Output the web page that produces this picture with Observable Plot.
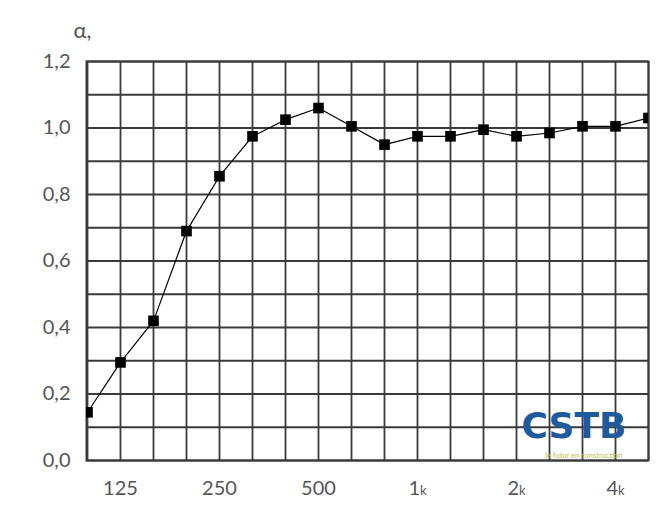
<!DOCTYPE html>
<html>
<head>
<meta charset="utf-8">
<script src="https://cdn.jsdelivr.net/npm/d3@7"></script>
<script src="https://cdn.jsdelivr.net/npm/@observablehq/plot@0.6"></script>
<style>
  html, body { margin: 0; padding: 0; background: #fff; }
</style>
</head>
<body>
<div id="chart"></div>
<script>
// Third-octave bands (Hz)
const bands = ["100","125","160","200","250","315","400","500","630","800","1k","1.25k","1.6k","2k","2.5k","3.15k","4k","5k"];
// Absorption coefficient alpha
const alpha = [0.145, 0.295, 0.42, 0.69, 0.855, 0.975, 1.025, 1.06, 1.005, 0.95, 0.975, 0.975, 0.995, 0.975, 0.985, 1.005, 1.005, 1.03];
const xTickLabels = ["125","250","500","1k","2k","4k"];
const yTickLabels = [0, 0.2, 0.4, 0.6, 0.8, 1.0, 1.2];
const yGridLines = [0, 0.1, 0.2, 0.3, 0.4, 0.5, 0.6, 0.7, 0.8, 0.9, 1.0, 1.1, 1.2];
const yTitle = "α,";
const logoText = "CSTB";
const logoTagline = "le futur en construction";

const data = bands.map((b, i) => ({band: b, a: alpha[i]}));
const fmt = v => v.toFixed(1).replace(".", ",");
const gridColor = "#3a3a3a";
const font = "Lato, 'DejaVu Sans', sans-serif";

const plot = Plot.plot({
  width: 672,
  height: 507,
  marginLeft: 86,
  marginRight: 24,
  marginTop: 61,
  marginBottom: 47,
  style: {fontFamily: font, fontSize: "20px", color: "#555", background: "#fff"},
  x: {type: "point", domain: bands, padding: 0},
  y: {domain: [0, 1.2]},
  marks: [
    Plot.gridX(bands, {stroke: gridColor, strokeOpacity: 1, strokeWidth: 1.8}),
    Plot.gridY(yGridLines, {stroke: gridColor, strokeOpacity: 1, strokeWidth: 1.8}),
    Plot.frame({stroke: gridColor, strokeWidth: 2}),
    Plot.axisX(xTickLabels, {tickSize: 0, tickPadding: 20, fontSize: 20, fill: "#555", label: null}),
    Plot.axisY(yTickLabels, {tickSize: 0, tickPadding: 16, fontSize: 20, fill: "#555", tickFormat: fmt, label: null}),
    Plot.line(data, {x: "band", y: "a", stroke: "#000", strokeWidth: 1.2, clip: "frame"}),
    Plot.dot(data, {x: "band", y: "a", symbol: "square", r: 6, fill: "#000", stroke: "none", clip: "frame"}),
    Plot.text([yTitle], {frameAnchor: "top-left", dx: -13, dy: -39, text: d => d, fontSize: 22, fill: "#555", textAnchor: "start"}),
    Plot.text([logoText], {frameAnchor: "bottom-right", dx: -22, dy: -23, text: d => d, fontSize: 36, fontWeight: "bold", fontFamily: "'DejaVu Sans', sans-serif", fill: "#1f5a9c", textAnchor: "end", letterSpacing: "-1px"}),
    Plot.text([logoTagline], {frameAnchor: "bottom-right", dx: -26, dy: -3, text: d => d, fontSize: 7.5, fill: "#b9c24a", textAnchor: "end", letterSpacing: "1.4px"})
  ]
});

// Render the "k" of kHz tick labels as a small letter
d3.select(plot).selectAll("text").each(function() {
  const t = this.textContent;
  if (/^\d+k$/.test(t) && this.childElementCount === 0) {
    const sel = d3.select(this);
    sel.text(t.slice(0, -1));
    sel.append("tspan").attr("font-size", "13px").text("k");
  }
});

document.getElementById("chart").appendChild(plot);
</script>
</body>
</html>
